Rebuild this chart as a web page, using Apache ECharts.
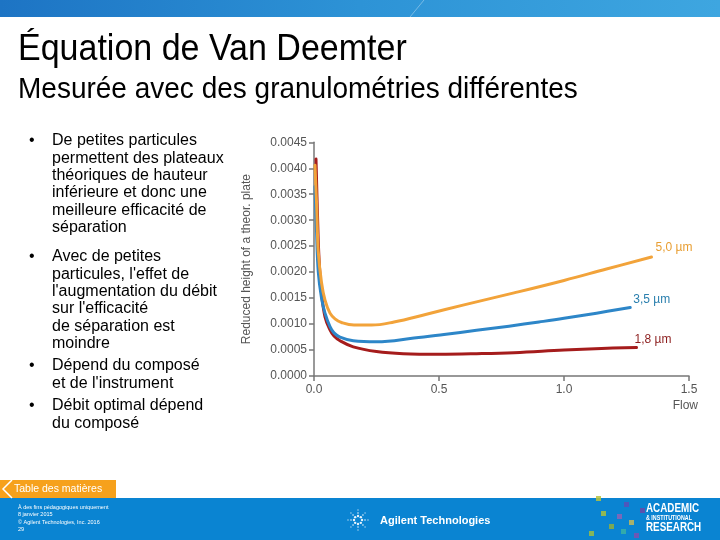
<!DOCTYPE html>
<html>
<head>
<meta charset="utf-8">
<script src="https://cdn.jsdelivr.net/npm/echarts@6/dist/echarts.min.js"></script>
<style>
html,body{margin:0;padding:0;background:#fff;}
#chart{width:720px;height:540px;}
</style>
</head>
<body>
<div id="chart"></div>
<script>
// ---- data ----
const seriesNames = ["5,0 \u00b5m", "3,5 \u00b5m", "1,8 \u00b5m"];
const flow50 = [0.004, 0.011, 0.017, 0.03, 0.044, 0.064, 0.084, 0.11, 0.16, 0.23, 0.32, 0.45, 0.6, 0.8, 1.0, 1.17, 1.35];
const h50    = [0.00406, 0.00323, 0.0024, 0.0018, 0.00146, 0.00121, 0.0011, 0.00103, 0.00098, 0.00098, 0.00104, 0.00119, 0.00137, 0.0016, 0.00184, 0.00206, 0.00229];
const flow35 = [0.004, 0.01, 0.017, 0.03, 0.044, 0.064, 0.08, 0.104, 0.157, 0.25, 0.4, 0.52, 0.65, 0.78, 0.9, 1.0, 1.13, 1.265];
const h35    = [0.00365, 0.0028, 0.00201, 0.0015, 0.00121, 0.00095, 0.00083, 0.00075, 0.00068, 0.00066, 0.00073, 0.0008, 0.00088, 0.00096, 0.00104, 0.00111, 0.00121, 0.00132];
const flow18 = [0.008, 0.014, 0.02, 0.03, 0.044, 0.064, 0.08, 0.104, 0.157, 0.25, 0.357, 0.5, 0.65, 0.8, 1.0, 1.15, 1.29];
const h18    = [0.00418, 0.0031, 0.00227, 0.0016, 0.00114, 0.00089, 0.00077, 0.00068, 0.00056, 0.00047, 0.00043, 0.00042, 0.00043, 0.00045, 0.0005, 0.00053, 0.00055];
const xTickStep = 0.5, xMax = 1.5;
const yTickStep = 0.0005, yMax = 0.0045;
const title = "\u00c9quation de Van Deemter";
const subtitle = "Mesur\u00e9e avec des granulom\u00e9tries diff\u00e9rentes";
const bullets = [
  ["De petites particules", "permettent des plateaux", "th\u00e9oriques de hauteur", "inf\u00e9rieure et donc une", "meilleure efficacit\u00e9 de", "s\u00e9paration"],
  ["Avec de petites", "particules, l'effet de", "l'augmentation du d\u00e9bit", "sur l'efficacit\u00e9", "de s\u00e9paration est", "moindre"],
  ["D\u00e9pend du compos\u00e9", "et de l'instrument"],
  ["D\u00e9bit optimal d\u00e9pend", "du compos\u00e9"]
];
const footerLines = ["\u00c0 des fins p\u00e9dagogiques uniquement", "8 janvier 2015", "\u00a9 Agilent Technologies, Inc. 2016", "29"];

// ---- chart ----
const chart = echarts.init(document.getElementById('chart'));
const pair = (xs, ys) => xs.map((x, i) => [x, ys[i]]);
const FONT = '"Liberation Sans", Arial, sans-serif';

const bulletTops = [132.4, 248.4, 357.4, 397.4];
const graphics = [];
// top band
graphics.push({type:'rect', shape:{x:0,y:0,width:720,height:17}, style:{fill:new echarts.graphic.LinearGradient(0,0,1,0,[{offset:0,color:'#1d74c4'},{offset:0.5,color:'#2d93d6'},{offset:1,color:'#3ea6e0'}])}, z:1});
graphics.push({type:'line', shape:{x1:410,y1:17,x2:424,y2:0}, style:{stroke:'rgba(255,255,255,0.35)',lineWidth:1}, z:2});
graphics.push({type:'text', x:18, y:50, scaleY:1.1, style:{text:title, font:'34px '+FONT, fill:'#000', verticalAlign:'middle'}});
graphics.push({type:'text', x:18, y:90, scaleY:1.05, style:{text:subtitle, font:'28px '+FONT, fill:'#000', verticalAlign:'middle'}});
bullets.forEach((lines, i) => {
  graphics.push({type:'text', x:29, y:bulletTops[i], style:{text:'\u2022', font:'16px '+FONT, fill:'#000', verticalAlign:'top', lineHeight:17.3}});
  graphics.push({type:'text', x:52, y:bulletTops[i], style:{text:lines.join('\n'), font:'16px '+FONT, fill:'#000', verticalAlign:'top', lineHeight:17.3}});
});
// footer
graphics.push({type:'rect', shape:{x:0,y:498,width:720,height:42}, style:{fill:'#0a84d2'}});
graphics.push({type:'rect', shape:{x:0,y:480,width:116,height:18}, style:{fill:'#f6a11c'}});
graphics.push({type:'polyline', shape:{points:[[12,480],[3,489],[12,498]]}, style:{stroke:'#fff', lineWidth:1.5, fill:null}});
graphics.push({type:'text', x:14, y:489, style:{text:'Table des mati\u00e8res', font:'10.5px '+FONT, fill:'#fff', verticalAlign:'middle'}});
graphics.push({type:'text', x:18, y:504, style:{text:footerLines.join('\n'), font:'5.5px '+FONT, fill:'#fff', verticalAlign:'top', lineHeight:7.3}});
// agilent spark
const sc = [358, 520];
for (let a = 0; a < 8; a++) {
  const ang = a * Math.PI / 4;
  [4, 7, 10].forEach((r, k) => {
    graphics.push({type:'circle', shape:{cx:sc[0]+Math.cos(ang)*r, cy:sc[1]+Math.sin(ang)*r, r:k===0?1.2:0.8}, style:{fill:'rgba(255,255,255,'+(k===2?0.6:0.9)+')'}});
  });
}
graphics.push({type:'text', x:380, y:520.5, style:{text:'Agilent Technologies', font:'bold 11px '+FONT, fill:'#fff', verticalAlign:'middle'}});
// decorative squares
const sq = [[596,496,'#b9c33c'],[601,511,'#a9c040'],[617,514,'#8e63b6'],[624,502,'#5a4fb8'],[609,524,'#8fae3e'],[621,529,'#39b0a4'],[634,533,'#7c4fb0'],[589,531,'#9bbd45'],[629,520,'#c4b85a'],[640,508,'#6a48a8']];
sq.forEach(s => graphics.push({type:'rect', shape:{x:s[0],y:s[1],width:5,height:5}, style:{fill:s[2], opacity:0.85}}));
graphics.push({type:'text', x:646, y:509, scaleX:0.82, style:{text:'ACADEMIC', font:'bold 12px '+FONT, fill:'#fff', verticalAlign:'middle'}});
graphics.push({type:'text', x:646, y:518, scaleX:0.82, style:{text:'& INSTITUTIONAL', font:'bold 6.5px '+FONT, fill:'#fff', verticalAlign:'middle'}});
graphics.push({type:'text', x:646, y:527.5, scaleX:0.82, style:{text:'RESEARCH', font:'bold 12px '+FONT, fill:'#fff', verticalAlign:'middle'}});

const colors = ['#f2a33a', '#2d86c8', '#a51c1c'];
const labelColors = ['#e89e32', '#2a7fae', '#8c1d1d'];
const labelOffsets = [[4,-9],[3,-8],[-2,-8]];
const datas = [pair(flow50, h50), pair(flow35, h35), pair(flow18, h18)];

const option = {
  animation: false,
  backgroundColor: '#fff',
  grid: {left:314, right:31, top:142.3, bottom:164},
  xAxis: {
    type:'value', min:0, max:xMax, interval:xTickStep,
    name:'Flow', nameLocation:'end', nameGap:9,
    nameTextStyle:{color:'#555', fontSize:12, fontFamily:FONT, align:'right', verticalAlign:'top', padding:[24,0,0,0]},
    axisLine:{show:true, lineStyle:{color:'#777', width:1.5}},
    axisTick:{show:true, length:5, lineStyle:{color:'#777', width:1.5}},
    axisLabel:{color:'#555', fontSize:12, fontFamily:FONT, margin:8, formatter:v=>v.toFixed(1)},
    splitLine:{show:false}
  },
  yAxis: {
    type:'value', min:0, max:yMax, interval:yTickStep,
    name:'Reduced height of a theor. plate', nameLocation:'middle', nameGap:61, nameRotate:90,
    nameTextStyle:{color:'#555', fontSize:12, fontFamily:FONT},
    axisLine:{show:true, lineStyle:{color:'#777', width:1.5}},
    axisTick:{show:true, length:5, lineStyle:{color:'#777', width:1.5}},
    axisLabel:{color:'#555', fontSize:12, fontFamily:FONT, margin:7, formatter:v=>v.toFixed(4)},
    splitLine:{show:false}
  },
  series: seriesNames.map((n, i) => ({
    name:n, type:'line', data:datas[i], showSymbol:false, smooth:0.4,
    lineStyle:{color:colors[i], width:3, join:'round', cap:'round'}, itemStyle:{color:colors[i]},
    endLabel:{show:true, formatter:n, color:labelColors[i], fontSize:12, fontFamily:FONT, distance:0, offset:labelOffsets[i], align:'left', verticalAlign:'middle'},
    z: 3 - i
  })),
  graphic: graphics
};
chart.setOption(option);
</script>
</body>
</html>
